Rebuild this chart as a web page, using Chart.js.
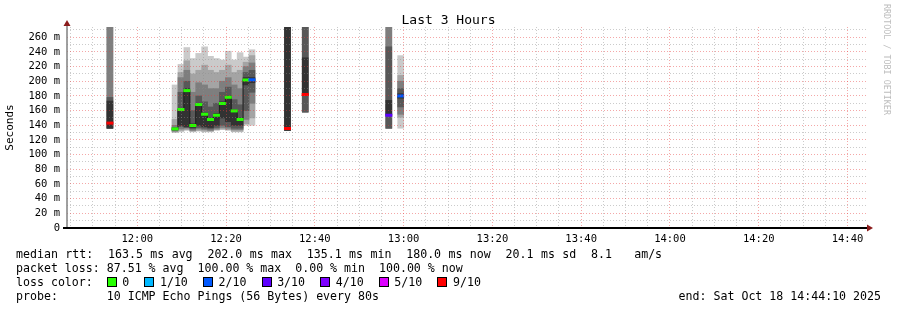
<!DOCTYPE html>
<html>
<head>
<meta charset="utf-8">
<script src="https://cdn.jsdelivr.net/npm/chart.js@4.4.1/dist/chart.umd.min.js"></script>
<style>
    body { margin: 0; background: #fff; }
    #wrap { position: relative; width: 897px; height: 310px; overflow: hidden; background: #fff; }
    #chart { position: absolute; left: 0; top: 0; }
    .txt { position: absolute; font-family: 'DejaVu Sans Mono', monospace; font-size: 11.6px; line-height: 14px; color: #000; white-space: pre; }
    #legend { left: 16px; top: 247px; }
    #end { right: 16px; top: 289px; }
    .just { word-spacing: 0.42px; }
    #mark { position: absolute; left: 882px; top: 4px; writing-mode: vertical-rl; font-family: 'DejaVu Sans Mono', monospace; font-size: 8.4px; line-height: 9px; color: #bdbdbd; white-space: pre; }
    .key { display: inline-block; width: 8px; height: 8px; border: 1px solid #000; margin-right: 5.5px; vertical-align: -1px; }
    .klabel { margin-right: 15.2px; }
</style>
</head>
<body>
<div id="wrap">
    <canvas id="chart" width="897" height="310"></canvas>
    <div class="txt" id="legend"></div>
    <div class="txt" id="end">end: Sat Oct 18 14:44:10 2025</div>
    <div id="mark">RRDTOOL / TOBI OETIKER</div>
</div>
<script>
// time window (3 hours ending at 14:44:10)
const startTime = '11:44:10';
const endTime = '14:44:10';

// one entry per 80s step that got an answer
const stepTimes = ['11:53:50', '12:08:30', '12:09:50', '12:11:10', '12:12:30', '12:13:50', '12:15:10', '12:16:30',
    '12:17:50', '12:19:10', '12:20:30', '12:21:50', '12:23:10', '12:24:30', '12:25:50', '12:33:50', '12:37:50',
    '12:56:40', '12:59:20'];
// median rtt, ms
const medians = [143, 135.1, 161.5, 187.3, 139.7, 168.3, 155.1, 147.9, 153.7, 169.7, 178.2, 159.6, 147.9, 201.8,
    202.0, 135.6, 182, 153.7, 180.0];
// lost pings out of 10
const lossTenths = [9, 0, 0, 0, 0, 0, 0, 0, 0, 0, 0, 0, 0, 0, 2, 9, 9, 3, 2];
// sorted ping rtts (ms) for each step, used for the smoke
const pings = [
    [136, 136, 136, 136, 136, 173, 178, 274, 274, 274],
    [130, 131, 132, 133, 134, 135, 137, 140, 148, 195],
    [131, 133, 135, 138, 140, 162, 185, 205, 212, 223],
    [133, 134, 136, 137, 138, 190, 200, 215, 228, 246],
    [131, 132, 133, 135, 137, 142, 160, 185, 210, 231],
    [132, 133, 135, 137, 140, 170, 180, 198, 215, 238],
    [131, 132, 134, 136, 138, 157, 172, 195, 222, 247],
    [131, 132, 133, 135, 137, 150, 165, 190, 215, 234],
    [133, 134, 135, 137, 140, 156, 170, 190, 212, 231],
    [134, 135, 137, 140, 150, 172, 185, 200, 215, 229],
    [133, 134, 136, 138, 145, 180, 192, 205, 222, 241],
    [131, 132, 134, 136, 140, 161, 175, 195, 212, 229],
    [131, 132, 134, 136, 140, 150, 168, 190, 215, 239],
    [140, 142, 148, 160, 195, 205, 212, 220, 226, 233],
    [140, 150, 170, 185, 198, 205, 215, 225, 235, 243],
    [133, 133, 133, 133, 133, 274, 274, 274, 274, 274],
    [158, 158, 158, 158, 181, 232, 274, 274, 274, 274],
    [136, 136, 136, 136, 154, 174, 247, 274, 274, 274],
    [136, 151, 155, 165, 177, 183, 190, 200, 208, 235]
];

const xTickLabels = ['12:00', '12:20', '12:40', '13:00', '13:20', '13:40', '14:00', '14:20', '14:40'];
const yTickLabels = [0, 20, 40, 60, 80, 100, 120, 140, 160, 180, 200, 220, 240, 260];
const yMax = 274;

const lossKeys = ['0', '1/10', '2/10', '3/10', '4/10', '5/10', '9/10'];
const lossColors = ['#26ff00', '#00b8ff', '#0059ff', '#5e00ff', '#7e00ff', '#dd00ff', '#ff0000'];
const smokeColors = ['#cacaca', '#a4a4a4', '#7e7e7e', '#585858', '#323232'];

function toMin(s) {
    const p = s.split(':').map(Number);
    return p[0] * 60 + p[1] + (p[2] || 0) / 60;
}

function fmtMin(m) {
    const h = Math.floor(m / 60), mm = Math.round(m % 60);
    return String(h).padStart(2, '0') + ':' + String(mm).padStart(2, '0');
}

function lossColor(n) {
    const i = lossKeys.indexOf(n === 0 ? '0' : n + '/10');
    return i >= 0 ? lossColors[i] : '#ff0000';
}

// legend text under the graph
const keysHtml = lossKeys.map((k, i) =>
    `<span class="key" style="background:${lossColors[i]}"></span><span class="klabel">${k}</span>`).join('');
document.getElementById('legend').innerHTML =
    '<span class="just">median rtt:  163.5 ms avg  202.0 ms max  135.1 ms min  180.0 ms now  20.1 ms sd  8.1   am/s</span>\n' +
    'packet loss: 87.51 % avg  100.00 % max  0.00 % min  100.00 % now\n' +
    'loss color:  ' + keysHtml + '\n' +
    'probe:       10 ICMP Echo Pings (56 Bytes) every 80s';

const t0 = toMin(startTime), t1 = toMin(endTime);
const times = stepTimes.map(toMin);
const majorX = xTickLabels.map(toMin);

// smoke bands: outer pair first, darkest pair innermost
const smokeSets = smokeColors.map((c, b) => ({
    type: 'bar',
    data: times.map((t, i) => ({ x: t, y: [pings[i][b], pings[i][9 - b]] })),
    backgroundColor: c,
    borderWidth: 0,
    grouped: false,
    barPercentage: 1,
    categoryPercentage: 1,
    order: 6 - b
}));

// black step line through medians, broken where steps are missing
const stepLine = [];
times.forEach((t, i) => {
    if (i > 0 && t - times[i - 1] > 80 / 60 + 0.01) stepLine.push({ x: (t + times[i - 1]) / 2, y: null });
    stepLine.push({ x: t, y: medians[i] });
});

const gridGray = 'rgba(140,140,140,0.45)';
const gridRed = 'rgba(230,60,60,0.45)';

const axisArrows = {
    id: 'axisArrows',
    afterDraw(chart) {
        const { ctx, chartArea: a } = chart;
        ctx.save();
        ctx.strokeStyle = '#808080';
        ctx.lineWidth = 1.5;
        ctx.beginPath();
        ctx.moveTo(a.left, a.bottom);
        ctx.lineTo(a.left, a.top - 3);
        ctx.stroke();
        ctx.strokeStyle = '#000';
        ctx.lineWidth = 2;
        ctx.beginPath();
        ctx.moveTo(a.left - 4, a.bottom);
        ctx.lineTo(a.right + 2, a.bottom);
        ctx.stroke();
        ctx.fillStyle = '#8b1c1c';
        ctx.beginPath();
        ctx.moveTo(a.left - 3.5, a.top - 1);
        ctx.lineTo(a.left + 3.5, a.top - 1);
        ctx.lineTo(a.left, a.top - 7);
        ctx.fill();
        ctx.beginPath();
        ctx.moveTo(a.right + 1, a.bottom - 3.5);
        ctx.lineTo(a.right + 1, a.bottom + 3.5);
        ctx.lineTo(a.right + 7, a.bottom);
        ctx.fill();
        ctx.restore();
    }
};

Chart.defaults.font.family = "'DejaVu Sans Mono', monospace";
Chart.defaults.color = '#000';

new Chart(document.getElementById('chart'), {
    type: 'bar',
    data: {
        datasets: [
            {
                type: 'scatter',
                data: times.map((t, i) => ({ x: t, y: medians[i] })),
                pointStyle: 'line',
                pointRadius: 3.5,
                pointBorderWidth: 3,
                pointBorderColor: lossTenths.map(lossColor),
                order: 0
            },
            {
                type: 'line',
                data: stepLine,
                stepped: 'middle',
                borderColor: '#202020',
                borderWidth: 1,
                pointRadius: 0,
                spanGaps: false,
                order: 1
            },
            ...smokeSets
        ]
    },
    options: {
        responsive: false,
        animation: false,
        events: [],
        devicePixelRatio: 1,
        layout: { padding: 0 },
        plugins: {
            legend: { display: false },
            tooltip: { enabled: false },
            title: {
                display: true,
                text: 'Last 3 Hours',
                font: { size: 13, weight: 'normal', lineHeight: 1 },
                padding: { top: 14, bottom: 0 }
            }
        },
        scales: {
            x: {
                type: 'linear',
                offset: false,
                min: t0,
                max: t1,
                afterBuildTicks: s => {
                    const t = [];
                    for (let m = Math.ceil(t0 / 5) * 5; m <= t1; m += 5) t.push({ value: m });
                    s.ticks = t;
                },
                afterFit: s => { s.height = 82; },
                ticks: {
                    autoSkip: false,
                    maxRotation: 0,
                    padding: 5,
                    font: { size: 10.5 },
                    callback: v => majorX.some(m => Math.abs(m - v) < 0.01) ? fmtMin(v) : ''
                },
                grid: {
                    offset: false,
                    drawTicks: false,
                    z: 1,
                    color: c => c.tick && majorX.some(m => Math.abs(m - c.tick.value) < 0.01) ? gridRed : gridGray
                },
                border: { display: false, dash: [1, 2] }
            },
            y: {
                min: 0,
                max: yMax,
                afterBuildTicks: s => {
                    const t = [];
                    for (let v = 0; v <= yMax; v += 10) t.push({ value: v });
                    s.ticks = t;
                },
                afterFit: s => { s.width = 67; },
                ticks: {
                    autoSkip: false,
                    padding: 7,
                    font: { size: 10.5 },
                    callback: v => yTickLabels.includes(v) ? (v === 0 ? '0' : v + ' m') : ''
                },
                grid: {
                    drawTicks: false,
                    z: 1,
                    color: c => c.tick && c.tick.value % 20 === 0 ? gridRed : gridGray
                },
                border: { display: false, dash: [1, 2] },
                title: {
                    display: true,
                    text: 'Seconds',
                    font: { size: 11 },
                    padding: { top: 4, bottom: 0 }
                }
            },
            // empty right-hand margin (keeps the title centred on the full width)
            yRight: {
                position: 'right',
                grid: { display: false },
                border: { display: false },
                ticks: { display: false },
                afterFit: s => { s.width = 31; }
            }
        }
    },
    plugins: [axisArrows]
});
</script>
</body>
</html>
